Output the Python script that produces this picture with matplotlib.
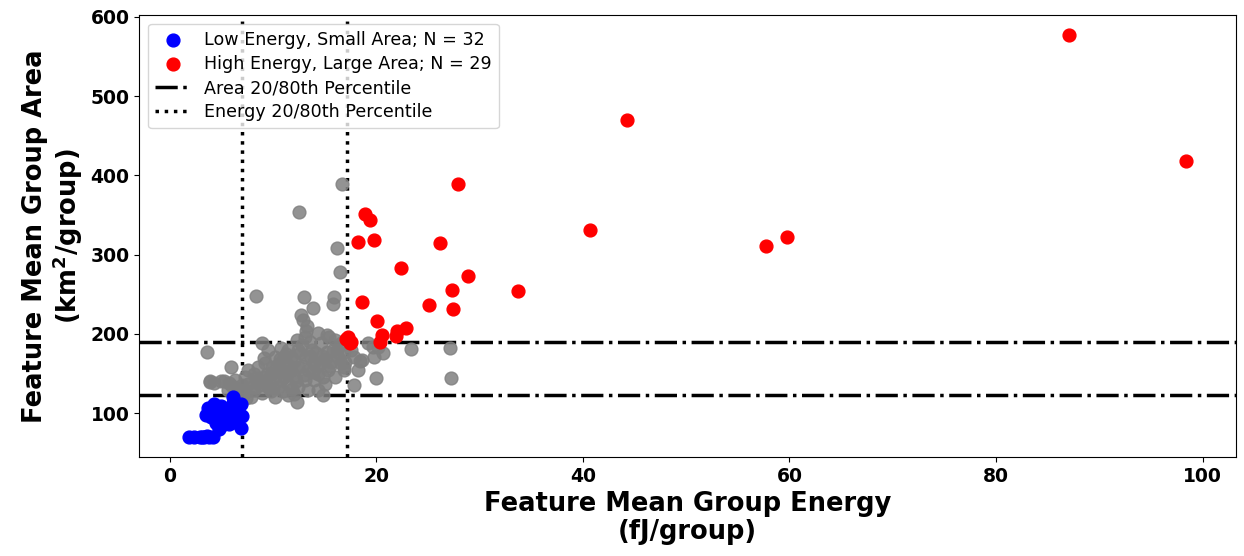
import matplotlib.pyplot as plt
import numpy as np

# percentile thresholds
area_pcts = [122.5, 189.5]
energy_pcts = [7.05, 17.2]

# low energy, small area group
low_e = [1.9, 2.4, 2.9, 3.3, 3.8, 4.2, 3.1, 3.6, 4.8, 6.9, 3.7, 4.3, 4.7, 4.0, 4.8, 4.5,
         5.3, 5.8, 5.5, 6.1, 6.1, 6.9, 7.0, 6.4, 6.3, 5.8, 5.1, 3.5, 4.2, 5.0, 6.6, 4.6]
low_a = [70, 70, 70, 70, 70, 70, 70, 71, 80, 81, 107, 112, 106, 95, 94, 88,
         90, 98, 104, 121, 113, 112, 96, 97, 89, 86, 85, 98, 99, 109, 105, 102]

# high energy, large area group
high_e = [87.1, 98.4, 44.3, 40.7, 57.7, 59.8, 33.7, 27.9, 18.9, 19.4, 18.2, 19.8, 26.2,
          22.4, 28.9, 27.3, 18.6, 25.1, 27.4, 20.1, 20.6, 22.0, 22.9, 21.9, 20.4,
          17.3, 17.6, 17.1, 17.5]
high_a = [577, 418, 470, 331, 311, 322, 254, 389, 351, 344, 316, 318, 315,
          283, 273, 255, 240, 236, 231, 216, 199, 204, 207, 197, 190,
          196, 190, 193, 188]

# everything else
other_e = [16.7, 12.5, 16.2, 16.5, 8.4, 13.0, 15.9, 13.9, 12.9, 13.2, 14.4, 3.6, 5.9, 3.9,
           5.3, 23.4, 20.0, 17.9, 20.7, 19.8, 18.6, 18.2, 19.2, 20.2, 14.9, 12.3, 8.9,
           9.5, 10.8, 27.1, 27.2, 15.8, 19.7, 16.9, 17.6, 18.4,
           15.2, 14.7, 16.0, 16.6, 16.9, 16.3, 15.2, 14.0, 13.2, 12.4, 12.3, 13.1, 11.5,
           10.2, 9.2, 9.9, 10.5, 11.1, 11.8, 12.4, 13.4, 14.4, 15.3, 16.0, 15.0, 14.0,
           13.1, 12.4, 11.5, 10.5, 9.5, 8.9, 8.2, 7.6, 7.6, 8.2, 8.6, 7.3, 6.3, 5.7,
           6.6, 7.0, 7.9, 10.2, 11.5, 13.4, 14.4, 16.6, 16.9, 17.9, 17.3, 11.8, 11.1,
           12.1, 11.1, 10.2, 9.2, 3.9, 4.3, 5.0, 5.8, 7.05, 7.4,
           9.0, 9.8, 10.6, 11.4, 12.0, 12.8, 13.6, 14.2, 15.0, 15.6, 10.0, 10.8, 11.6,
           12.6, 13.8, 14.8, 9.4, 8.6, 12.2, 13.0, 14.6, 15.8, 16.4, 11.0, 9.6, 10.4,
           12.8, 13.6, 14.2, 8.0, 8.8, 9.8, 11.9, 15.5, 16.2, 6.8, 7.2, 8.4, 12.0,
           13.9, 10.7, 11.3, 9.1, 14.9, 15.4, 6.0, 6.9, 17.0, 13.3, 12.7]
other_a = [389, 354, 308, 278, 248, 246, 246, 233, 218, 204, 201, 177, 158, 140,
           140, 181, 144, 135, 176, 171, 167, 154, 189, 184, 123, 114, 188,
           180, 182, 182, 144, 238, 184, 158, 180, 166,
           198, 188, 192, 188, 177, 171, 177, 165, 171, 180, 192, 196, 180,
           171, 163, 158, 154, 158, 154, 158, 154, 150, 154, 146, 137, 142,
           142, 133, 137, 133, 133, 125, 129, 137, 154, 150, 158, 146, 142, 129,
           131, 121, 121, 121, 123, 129, 129, 163, 154, 171, 188, 171, 171,
           146, 146, 146, 146, 139, 138, 140, 138, 136, 119,
           140, 150, 162, 150, 166, 160, 172, 160, 168, 164, 132, 142, 160,
           176, 180, 172, 150, 142, 140, 148, 162, 180, 185, 128, 138, 160,
           186, 190, 176, 132, 136, 128, 130, 160, 178, 130, 126, 144, 124,
           152, 168, 175, 170, 146, 196, 134, 128, 164, 210, 224]

fig, ax = plt.subplots(figsize=(12.44, 5.56), dpi=100)
fig.subplots_adjust(left=0.112, right=0.9936, top=0.973, bottom=0.178)

for i, a in enumerate(area_pcts):
    ax.axhline(a, color='black', linestyle='-.', linewidth=2.5, zorder=1,
               label='Area 20/80th Percentile' if i == 0 else None)
for i, e in enumerate(energy_pcts):
    ax.axvline(e, color='black', linestyle=':', linewidth=2.5, zorder=1,
               label='Energy 20/80th Percentile' if i == 0 else None)

ax.scatter(other_e, other_a, s=85, color='gray', alpha=0.85, zorder=2)
ax.scatter(low_e, low_a, s=85, color='blue', zorder=3,
           label=f'Low Energy, Small Area; N = {len(low_e)}')
ax.scatter(high_e, high_a, s=85, color='red', zorder=3,
           label=f'High Energy, Large Area; N = {len(high_e)}')

ax.set_xlabel('Feature Mean Group Energy\n(fJ/group)', fontsize=18.5, fontweight='bold',
              linespacing=1.1)
ax.set_ylabel('Feature Mean Group Area\n(km$^\\mathbf{2}$/group)', fontsize=18.5,
              fontweight='bold', linespacing=1.1)
ax.tick_params(labelsize=13.5)
for lab in ax.get_xticklabels() + ax.get_yticklabels():
    lab.set_fontweight('bold')

handles, labels = ax.get_legend_handles_labels()
order = [2, 3, 0, 1]
ax.legend([handles[i] for i in order], [labels[i] for i in order],
          loc='upper left', fontsize=12.6, labelspacing=0.35)

plt.savefig('out.png')
